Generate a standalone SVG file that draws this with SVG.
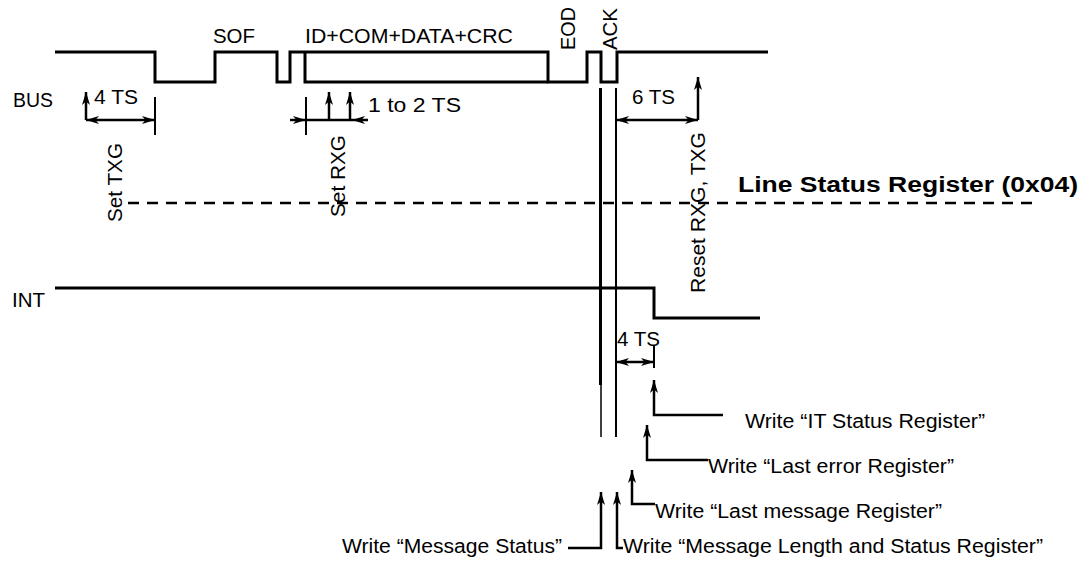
<svg xmlns="http://www.w3.org/2000/svg" width="1084" height="573" viewBox="0 0 1084 573">
  <style>
    text { font-family: "Liberation Sans", Arial, sans-serif; fill: #000; }
    .t { font-size: 20px; }
    .r { font-size: 21px; }
    .b { font-size: 22px; font-weight: bold; }
    .sig { fill: none; stroke: #000; stroke-width: 3; stroke-linejoin: miter; stroke-linecap: butt; }
    .ln { fill: none; stroke: #000; stroke-width: 2.5; }
    .tick { fill: none; stroke: #000; stroke-width: 2; }
    .arr { fill: none; stroke: #000; stroke-width: 2.5; marker-end: url(#ah); }
    .dbl { fill: none; stroke: #000; stroke-width: 2.5; marker-start: url(#ah); marker-end: url(#ah); }
    .dash { fill: none; stroke: #000; stroke-width: 2.5; stroke-dasharray: 11 8; }
  </style>
  <defs>
    <marker id="ah" markerUnits="userSpaceOnUse" markerWidth="14" markerHeight="10" refX="13" refY="4.5" orient="auto-start-reverse">
      <path d="M0,0.5 L13,4.5 L0,8.5 L3.5,4.5 z" fill="#000"/>
    </marker>
  </defs>

  <rect width="1084" height="573" fill="#fff"/>

  <g id="bus-signal">
    <path class="sig" d="M55,52 H155 V82 H215 V52 H277 V82 H290 V52 H548 V82 H587 V52 H601 V82 H617 V52 H768"/>
    <path class="sig" d="M305,52 V82 H548"/>
    <text class="t" x="13" y="107" textLength="40" lengthAdjust="spacingAndGlyphs">BUS</text>
    <text class="t" x="213" y="43" textLength="42" lengthAdjust="spacingAndGlyphs">SOF</text>
    <text class="t" x="305" y="43" textLength="208" lengthAdjust="spacingAndGlyphs">ID+COM+DATA+CRC</text>
    <text class="r" transform="translate(575,50) rotate(-90)" textLength="43" lengthAdjust="spacingAndGlyphs">EOD</text>
    <text class="r" transform="translate(617,50) rotate(-90)" textLength="42" lengthAdjust="spacingAndGlyphs">ACK</text>
  </g>

  <g id="int-signal">
    <path class="sig" d="M55,288 H654 V318 H760"/>
    <text class="t" x="12" y="307" textLength="33" lengthAdjust="spacingAndGlyphs">INT</text>
  </g>

  <g id="line-status-register">
    <path class="dash" d="M128,203 H1034"/>
    <text class="b" x="738" y="192" textLength="340" lengthAdjust="spacingAndGlyphs">Line Status Register (0x04)</text>
  </g>

  <g id="set-txg">
    <path class="tick" d="M155,97 V135"/>
    <path class="dbl" d="M86,120 H155"/>
    <path class="arr" d="M86,120 V92"/>
    <text class="t" x="94" y="104" textLength="44" lengthAdjust="spacingAndGlyphs">4 TS</text>
    <text class="r" transform="translate(122,222) rotate(-90)" textLength="79" lengthAdjust="spacingAndGlyphs">Set TXG</text>
  </g>

  <g id="set-rxg">
    <path class="tick" d="M306,97 V135"/>
    <path class="ln" d="M306,120 H352"/>
    <path class="arr" d="M290,120 H306"/>
    <path class="arr" d="M368,120 H352"/>
    <path class="arr" d="M329,120 V92"/>
    <path class="arr" d="M350,120 V92"/>
    <text class="t" x="368" y="112" textLength="93" lengthAdjust="spacingAndGlyphs">1 to 2 TS</text>
    <text class="r" transform="translate(345,217) rotate(-90)" textLength="82" lengthAdjust="spacingAndGlyphs">Set RXG</text>
  </g>

  <g id="reset">
    <path class="dbl" d="M616,120 H698"/>
    <path class="arr" d="M698,120 V77"/>
    <text class="t" x="632" y="104" textLength="43" lengthAdjust="spacingAndGlyphs">6 TS</text>
    <text class="r" transform="translate(705,293) rotate(-90)" textLength="161" lengthAdjust="spacingAndGlyphs">Reset RXG, TXG</text>
  </g>

  <g id="ack-markers">
    <path fill="none" stroke="#000" stroke-width="3" d="M600.5,88 V385"/>
    <path fill="none" stroke="#000" stroke-width="1.5" d="M601,385 V437"/>
    <path fill="none" stroke="#000" stroke-width="2" d="M616,88 V437"/>
  </g>

  <g id="int-delay">
    <path class="tick" d="M654,345 V368"/>
    <path class="dbl" d="M616,362 H654"/>
    <text class="t" x="617" y="346" textLength="43" lengthAdjust="spacingAndGlyphs">4 TS</text>
  </g>

  <g id="connectors">
    <path class="arr" d="M723,415 H654 V380"/>
    <path class="arr" d="M708,460 H647 V425"/>
    <path class="arr" d="M655,504 H632 V470"/>
    <path class="arr" d="M568,548 H601 V492"/>
    <path class="arr" d="M623,548 H617 V492"/>
  </g>

  <g id="write-labels">
    <text class="t" x="745" y="428" textLength="240" lengthAdjust="spacingAndGlyphs">Write “IT Status Register”</text>
    <text class="t" x="708" y="473" textLength="246" lengthAdjust="spacingAndGlyphs">Write “Last error Register”</text>
    <text class="t" x="655" y="518" textLength="287" lengthAdjust="spacingAndGlyphs">Write “Last message Register”</text>
    <text class="t" x="342" y="553" textLength="220" lengthAdjust="spacingAndGlyphs">Write “Message Status”</text>
    <text class="t" x="623" y="553" textLength="420" lengthAdjust="spacingAndGlyphs">Write “Message Length and Status Register”</text>
  </g>
</svg>
